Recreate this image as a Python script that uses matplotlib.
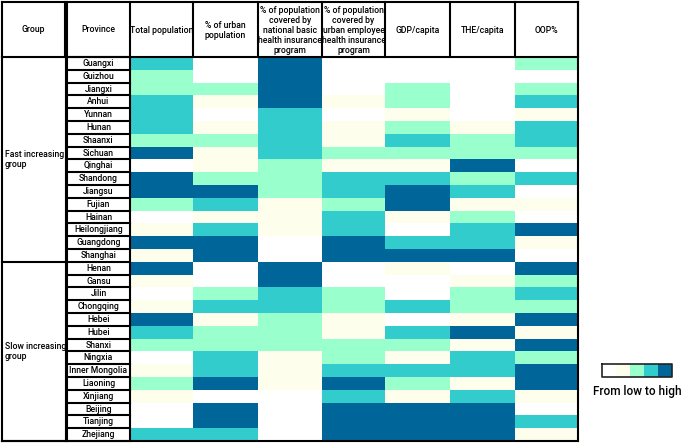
import numpy as np
import matplotlib
matplotlib.use("Agg")
import matplotlib.pyplot as plt
from matplotlib.colors import ListedColormap

plt.rcParams['font.family'] = ['Roboto', 'DejaVu Sans']

# levels 0..4 = low .. high
provinces = ['Guangxi', 'Guizhou', 'Jiangxi', 'Anhui', 'Yunnan', 'Hunan', 'Shaanxi',
             'Sichuan', 'Qinghai', 'Shandong', 'Jiangsu', 'Fujian', 'Hainan',
             'Heilongjiang', 'Guangdong', 'Shanghai',
             'Henan', 'Gansu', 'Jilin', 'Chongqing', 'Hebei', 'Hubei', 'Shanxi',
             'Ningxia', 'Inner Mongolia', 'Liaoning', 'Xinjiang', 'Beijing',
             'Tianjing', 'Zhejiang']
groups = ['Fast increasing\ngroup', 'Slow increasing\ngroup']
group_sizes = [16, 14]

headers = ['Total population', '% of urban\npopulation',
           '% of population\ncovered by\nnational basic\nhealth insurance\nprogram',
           '% of population\ncovered by\nurban employee\nhealth insurance\nprogram',
           'GDP/capita', 'THE/capita', 'OOP%']

total_pop = [3, 2, 2, 3, 3, 3, 2, 4, 0, 4, 4, 2, 0, 1, 4, 1,
             4, 1, 0, 1, 4, 3, 2, 0, 1, 2, 1, 0, 0, 3]
urban_pct = [0, 0, 2, 1, 0, 1, 2, 1, 1, 2, 4, 3, 1, 3, 4, 4,
             0, 0, 2, 3, 1, 2, 2, 3, 3, 4, 0, 4, 4, 3]
basic_cov = [4, 4, 4, 4, 3, 3, 3, 3, 2, 2, 2, 1, 1, 1, 0, 0,
             4, 4, 3, 3, 2, 2, 2, 1, 1, 1, 0, 0, 0, 0]
employee_cov = [0, 0, 0, 1, 0, 1, 1, 2, 1, 3, 3, 2, 3, 3, 4, 4,
                0, 0, 2, 2, 1, 1, 2, 2, 3, 4, 3, 4, 4, 4]
gdp = [0, 0, 2, 2, 1, 2, 3, 2, 1, 3, 4, 4, 1, 0, 3, 4,
       1, 0, 0, 3, 0, 3, 2, 1, 3, 2, 1, 4, 4, 4]
the = [0, 0, 0, 0, 0, 1, 2, 2, 4, 2, 3, 1, 2, 3, 3, 4,
       0, 1, 2, 2, 1, 4, 1, 3, 3, 1, 3, 4, 4, 4]
oop = [2, 0, 2, 3, 1, 3, 3, 2, 0, 3, 0, 1, 0, 4, 1, 0,
       4, 2, 3, 2, 4, 1, 4, 2, 4, 4, 1, 0, 3, 1]

legend_levels = [0, 1, 2, 3, 4]
colors = ['#ffffff', '#fdffec', '#99ffcc', '#33cccc', '#006699']

cmap = ListedColormap(colors)

W, H = 685, 446
fig = plt.figure(figsize=(W / 100, H / 100), dpi=100)
ax = fig.add_axes([0, 0, 1, 1])
ax.set_xlim(0, W)
ax.set_ylim(H, 0)
ax.axis('off')

# table geometry (pixels)
col_x = [130, 193, 258, 322, 385, 450, 515, 578]
top, head_bot, bottom = 2, 57, 441
row_y = np.linspace(head_bot, bottom, len(provinces) + 1)
gx0, gx1, px0 = 2, 65, 67

values = np.array([total_pop, urban_pct, basic_cov, employee_cov, gdp, the, oop]).T
ax.pcolormesh(col_x, row_y, values, cmap=cmap, vmin=-0.5, vmax=4.5)

lw = 1.5
line = dict(color='black', lw=lw, solid_capstyle='projecting')
fw = 'medium'
fs = 6.2

# header
hx = [gx0, gx1, px0] + col_x
for x in hx:
    ax.plot([x, x], [top, head_bot], **line)
ax.plot([gx0, col_x[-1]], [top, top], **line)
ax.plot([gx0, col_x[-1]], [head_bot, head_bot], **line)
hfont = dict(fontsize=fs, fontweight=fw, ha='center', va='center', linespacing=1.15)
ax.text((gx0 + gx1) / 2, (top + head_bot) / 2, 'Group', **hfont)
ax.text((px0 + col_x[0]) / 2, (top + head_bot) / 2, 'Province', **hfont)
for i, h in enumerate(headers):
    ax.text((col_x[i] + col_x[i + 1]) / 2, (top + head_bot) / 2 + 1, h, **hfont)

# group column
ax.plot([gx0, gx0], [head_bot, bottom], **line)
ax.plot([gx1, gx1], [head_bot, bottom], color='black', lw=0.8)
start = 0
for g, n in zip(groups, group_sizes):
    y0, y1 = row_y[start], row_y[start + n]
    ax.plot([gx0, gx1], [y1, y1], **line)
    ax.text(gx0 + 3, (y0 + y1) / 2, g, fontsize=fs, fontweight=fw,
            ha='left', va='center', linespacing=1.25)
    start += n

# province column
for y in row_y:
    ax.plot([px0, col_x[0]], [y, y], **line)
ax.plot([px0, px0], [head_bot, bottom], **line)
ax.plot([col_x[0], col_x[0]], [head_bot, bottom], **line)
for i, p in enumerate(provinces):
    ax.text((px0 + col_x[0]) / 2, (row_y[i] + row_y[i + 1]) / 2, p,
            fontsize=fs, fontweight=fw, ha='center', va='center')

# outer frame
ax.plot([col_x[-1], col_x[-1]], [top, bottom], **line)
ax.plot([gx0, col_x[-1]], [bottom, bottom], **line)

# legend
lx = np.linspace(602, 672, len(legend_levels) + 1)
ax.pcolormesh(lx, [364, 377], [legend_levels], cmap=cmap, vmin=-0.5, vmax=4.5)
ax.plot([602, 672, 672, 602, 602], [364, 364, 377, 377, 364], color='#222222', lw=1.2)
ax.text(637, 392, 'From low to high', fontsize=8.5, fontweight=fw, ha='center', va='center')

fig.savefig('out.png', dpi=100)
